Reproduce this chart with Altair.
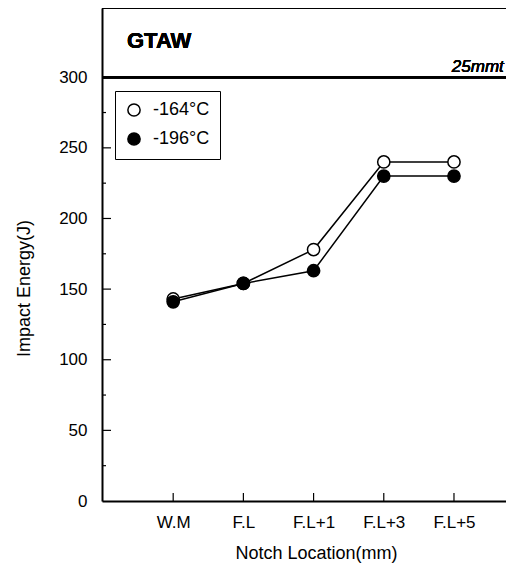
import altair as alt
import pandas as pd

locations = ["W.M", "F.L", "F.L+1", "F.L+3", "F.L+5"]
idx = [0, 1, 2, 3, 4]
e164 = [143, 154, 178, 240, 240]
e196 = [141, 154, 163, 230, 230]
series = ["-164°C", "-196°C"]
y_major = [50, 100, 150, 200, 250]
y_labels = [0, 50, 100, 150, 200, 250, 300]
y_minor = [25, 75, 125, 175, 225, 275]

FONT = "Liberation Sans"

rows = []
for s, vals in zip(series, [e164, e196]):
    for i, loc, v in zip(idx, locations, vals):
        rows.append({"series": s, "i": i, "loc": loc, "energy": v})
df = pd.DataFrame(rows)

label_expr = "[" + ",".join("'%s'" % l for l in locations) + "][datum.value]"

xs = alt.Scale(domain=[-1.014, 4.741], nice=False, zero=False)
ys = alt.Scale(domain=[0, 349], nice=False)

xenc = alt.X("i:Q", scale=xs, axis=alt.Axis(
    values=idx, labelExpr=label_expr, tickSize=0, labelPadding=13,
    grid=False, domainWidth=2, domainColor="black", labelColor="black",
    labelFontSize=17, labelFont=FONT, title="Notch Location(mm)",
    titleFont=FONT, titleFontSize=18, titleFontWeight="normal",
    titleX=214, titleY=52, titleBaseline="middle", titleColor="black"))
yenc = alt.Y("energy:Q", scale=ys, axis=alt.Axis(
    values=y_labels, tickSize=0, labelPadding=15, grid=False,
    domainWidth=2, domainColor="black", labelColor="black",
    labelFontSize=17, labelFont=FONT, title="Impact Energy(J)",
    titleFont=FONT, titleFontSize=18, titleFontWeight="normal",
    titleX=-78, titleY=280, titleBaseline="middle", titleAlign="center",
    titleColor="black"))

base = alt.Chart(df)

lines = base.mark_line(color="black", strokeWidth=1.5).encode(
    x=xenc, y=yenc, detail="series:N")

points = base.mark_point(shape="circle", size=150, filled=True,
                         stroke="black", strokeWidth=1.5, opacity=1).encode(
    x="i:Q", y="energy:Q",
    fill=alt.Fill("series:N", scale=alt.Scale(domain=series, range=["white", "black"]),
                  legend=alt.Legend(title=None, orient="none", legendX=13, legendY=83,
                                    strokeColor="black", fillColor="white", padding=10,
                                    labelFontSize=18, labelFont=FONT, labelColor="black",
                                    symbolType="circle", symbolSize=150,
                                    symbolStrokeColor="black", symbolStrokeWidth=1.5,
                                    rowPadding=9, labelOffset=10)),
    order=alt.Order("series:N"))

tick_df = pd.DataFrame({"v": y_major})
minor_df = pd.DataFrame({"v": y_minor})
xt_df = pd.DataFrame({"i": idx})

ymaj = alt.Chart(tick_df).mark_rule(color="black", strokeWidth=1.2).encode(
    y="v:Q", x=alt.value(0), x2=alt.value(9))
ymin = alt.Chart(minor_df).mark_rule(color="black", strokeWidth=1.2).encode(
    y="v:Q", x=alt.value(0), x2=alt.value(4))
xtk = alt.Chart(xt_df).mark_rule(color="black", strokeWidth=1.2).encode(
    x="i:Q", y=alt.value(493), y2=alt.value(485))

top_line = alt.Chart(tick_df).mark_rule(color="black", strokeWidth=1.5).encode(
    y=alt.datum(349))
line300 = alt.Chart(tick_df).mark_rule(color="black", strokeWidth=2.5).encode(
    y=alt.datum(300))

gtaw = alt.Chart(tick_df).mark_text(text="GTAW", font=FONT, fontSize=22,
                                    fontWeight="bold", align="left",
                                    baseline="middle", color="black").encode(
    x=alt.datum(-0.658), y=alt.datum(325.6))
mmt = alt.Chart(tick_df).mark_text(text="25mmt", font=FONT, fontSize=17,
                                   fontStyle="italic", fontWeight="normal",
                                   align="right",
                                   baseline="middle", color="black").encode(
    x=alt.datum(4.71), y=alt.datum(307.2))

chart = alt.layer(lines, points, ymaj, ymin, xtk, top_line, line300, gtaw, mmt).properties(
    width=404, height=493,
    autosize=alt.AutoSizeParams(type="none"),
    padding={"left": 94, "top": 0, "right": 0, "bottom": 62},
).configure_view(stroke="transparent").configure(background="white")

chart.save("out.html", embed_options={"renderer": "svg", "actions": False})
